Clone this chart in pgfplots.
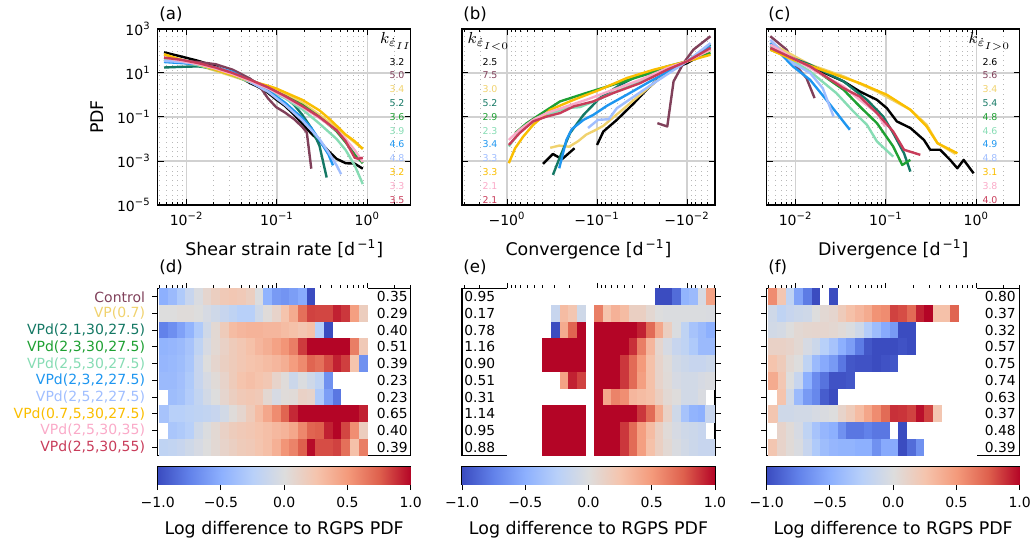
\documentclass[border=0pt]{standalone}
\usepackage{pgfplots}
\pgfplotsset{compat=1.18}
\usepackage{fontspec}
\setmainfont{DejaVu Sans}

\definecolor{cCtrl}{RGB}{128,64,90}
\definecolor{cVP}{RGB}{240,210,110}
\definecolor{cT}{RGB}{20,120,100}
\definecolor{cG}{RGB}{30,160,50}
\definecolor{cM}{RGB}{135,220,180}
\definecolor{cB}{RGB}{30,150,240}
\definecolor{cLB}{RGB}{160,190,255}
\definecolor{cGold}{RGB}{250,190,0}
\definecolor{cPk}{RGB}{250,170,200}
\definecolor{cCr}{RGB}{200,60,90}

\def\mxt{-2.301,-2.222,-2.155,-2.097,-2.046,-1.699,-1.523,-1.398,-1.301,-1.222,-1.155,-1.097,-1.046,-0.699,-0.523,-0.398,-0.301,-0.222,-0.155,-0.097,-0.046,0.301,0.477}
\newcommand{\tk}[1]{10\textsuperscript{#1}}
\newcommand{\kf}{\fontsize{4.7}{5.6}\selectfont}
% one heatmap cell: 0.0959 decade wide, one row high
\pgfdeclareplotmark{cell}{\pgfpathrectangle{\pgfpoint{-2.18pt}{-4.19pt}}{\pgfpoint{4.36pt}{8.38pt}}\pgfusepathqfillstroke}

\pgfplotsset{
  colormap={cwx}{rgb255(0cm)=(59,76,192) rgb255(1cm)=(98,130,234) rgb255(2cm)=(141,176,254) rgb255(3cm)=(184,208,249) rgb255(4cm)=(221,221,221) rgb255(5cm)=(245,196,173) rgb255(6cm)=(244,154,123) rgb255(7cm)=(222,96,77) rgb255(8cm)=(180,4,38) rgb255(9cm)=(255,255,255)},
  colormap={cw}{rgb255(0cm)=(59,76,192) rgb255(1cm)=(98,130,234) rgb255(2cm)=(141,176,254) rgb255(3cm)=(184,208,249) rgb255(4cm)=(221,221,221) rgb255(5cm)=(245,196,173) rgb255(6cm)=(244,154,123) rgb255(7cm)=(222,96,77) rgb255(8cm)=(180,4,38)},
  base/.style={scale only axis, width=126.5pt, anchor=north west,
    tick label style={font=\fontsize{7}{8}\selectfont},
    label style={font=\fontsize{8.7}{10}\selectfont},
    axis line style={line width=0.6pt},
    major tick length=3pt, minor tick length=1.7pt,
    every tick/.style={black, line width=0.5pt}},
  pdf/.style={base, height=88pt, xmin=-2.32, xmax=0.48, ymin=-5, ymax=3,
    xtick={-2,-1,0}, minor xtick=\mxt,
    xticklabels={\tk{−2},\tk{−1},\tk{0}},
    ytick={-5,-3,-1,1,3}, yticklabels={,,,,},
    xtick pos=both, ytick pos=both, xticklabel pos=lower, yticklabel pos=left,
    tick align=inside,
    xmajorgrids, ymajorgrids, xminorgrids,
    major grid style={black!18, line width=0.6pt},
    minor grid style={black!28, dotted, line width=0.4pt},
    every axis plot/.append style={line width=1.2pt, line join=round, mark=none}},
  hm/.style={base, height=83.5pt, xmin=-2.32, xmax=0.48, ymin=0.5, ymax=10.5, y dir=reverse,
    xtick={-2,-1,0}, minor xtick=\mxt, xticklabels={,,},
    xtick pos=upper, ytick={1,...,10}, tick align=outside,
    major tick length=2.8pt,
    colormap name=cwx, point meta min=-1, point meta max=1.25},
  cbar/.style={base, height=8.5pt, xmin=-1, xmax=1, ymin=0, ymax=1,
    ytick=\empty, xtick={-1,-0.5,0,0.5,1},
    xticklabels={−1.0,−0.5,0.0,0.5,1.0}, xtick pos=lower, tick align=outside,
    colormap name=cw, point meta min=-1, point meta max=1,
    xlabel={Log difference to RGPS PDF}},
  hmplot/.style={scatter, only marks, mark=cell, point meta=explicit,
    mark options={line width=0.12pt},
    scatter/use mapped color={draw=mapped color, fill=mapped color}},
}

\begin{document}
\begin{tikzpicture}
\useasboundingbox (0,0) rectangle (517.5pt,-270pt);

% ---------- (a) shear ----------
\begin{axis}[pdf, at={(78.85pt,-14.5pt)},
  yticklabels={\tk{−5},\tk{−3},\tk{−1},\tk{1},\tk{3}},
  ylabel={PDF}, xlabel={Shear strain rate [d\textsuperscript{\,−1}]}]
\addplot[black] coordinates {(-2.25,1.94) (-2.06,1.75) (-1.87,1.55) (-1.68,1.3) (-1.49,0.95) (-1.39,0.75) (-1.30,0.55) (-1.20,0.35) (-1.10,0.1) (-1.01,-0.2) (-0.91,-0.5) (-0.81,-0.9) (-0.72,-1.3) (-0.62,-1.75) (-0.53,-2.1) (-0.43,-2.55) (-0.34,-2.9) (-0.24,-3.1) (-0.14,-3.12) (-0.05,-3.35)};
\addplot[cCtrl] coordinates {(-2.25,1.55) (-2.06,1.55) (-1.87,1.5) (-1.68,1.4) (-1.49,1.15) (-1.30,0.75) (-1.20,0.45) (-1.10,-0.15) (-1.01,-0.55) (-0.91,-0.8) (-0.81,-1.1) (-0.72,-1.45) (-0.67,-1.7) (-0.62,-3.35)};
\addplot[cVP] coordinates {(-2.25,1.85) (-2.06,1.6) (-1.87,1.35) (-1.68,1.1) (-1.49,0.85) (-1.30,0.6) (-1.10,0.35) (-0.91,0.05) (-0.72,-0.35) (-0.53,-0.9) (-0.34,-1.5) (-0.14,-2.15) (-0.05,-2.45)};
\addplot[cT] coordinates {(-2.25,1.25) (-2.06,1.28) (-1.87,1.3) (-1.68,1.2) (-1.49,1.0) (-1.30,0.7) (-1.10,0.35) (-0.91,-0.1) (-0.81,-0.45) (-0.72,-0.9) (-0.62,-1.5) (-0.53,-2.3) (-0.45,-3.75)};
\addplot[cG] coordinates {(-2.25,1.6) (-2.06,1.5) (-1.87,1.35) (-1.68,1.15) (-1.49,0.9) (-1.30,0.6) (-1.10,0.3) (-0.91,-0.05) (-0.72,-0.45) (-0.53,-1.0) (-0.34,-1.65) (-0.24,-2.15) (-0.14,-2.7) (-0.05,-3.1)};
\addplot[cM] coordinates {(-2.25,1.6) (-2.06,1.5) (-1.87,1.35) (-1.68,1.15) (-1.49,0.9) (-1.30,0.6) (-1.10,0.25) (-0.91,-0.15) (-0.72,-0.65) (-0.53,-1.3) (-0.34,-2.0) (-0.24,-2.5) (-0.14,-3.2) (-0.05,-4.05)};
\addplot[cB] coordinates {(-2.25,1.5) (-2.06,1.45) (-1.87,1.4) (-1.68,1.25) (-1.49,1.05) (-1.30,0.65) (-1.10,0.2) (-0.91,-0.35) (-0.72,-1.05) (-0.62,-1.5) (-0.53,-2.05) (-0.43,-2.7) (-0.38,-3.2)};
\addplot[cLB] coordinates {(-2.25,1.55) (-2.06,1.5) (-1.87,1.4) (-1.68,1.25) (-1.49,1.0) (-1.30,0.6) (-1.10,0.15) (-0.91,-0.45) (-0.72,-1.15) (-0.53,-2.0) (-0.43,-2.6) (-0.34,-3.2) (-0.29,-3.6)};
\addplot[cGold] coordinates {(-2.25,1.85) (-2.06,1.6) (-1.87,1.4) (-1.68,1.15) (-1.49,0.9) (-1.30,0.65) (-1.10,0.42) (-1.01,0.3) (-0.91,0.12) (-0.72,-0.22) (-0.53,-0.7) (-0.43,-1.05) (-0.34,-1.4) (-0.24,-1.8) (-0.14,-2.1) (-0.05,-2.45)};
\addplot[cPk] coordinates {(-2.25,1.7) (-2.06,1.55) (-1.87,1.4) (-1.68,1.2) (-1.49,0.95) (-1.30,0.65) (-1.10,0.3) (-0.91,-0.1) (-0.72,-0.55) (-0.53,-1.05) (-0.34,-1.6) (-0.24,-2.0) (-0.14,-2.5) (-0.05,-3.05)};
\addplot[cCr] coordinates {(-2.25,1.7) (-2.06,1.6) (-1.87,1.45) (-1.68,1.25) (-1.49,1.0) (-1.30,0.7) (-1.10,0.35) (-0.91,-0.05) (-0.72,-0.5) (-0.53,-1.0) (-0.34,-1.6) (-0.24,-2.1) (-0.14,-2.85) (-0.10,-2.9) (-0.05,-2.85)};
\end{axis}

% ---------- (b) convergence (x = log10|div|, reversed) ----------
\begin{axis}[pdf, at={(231pt,-14.5pt)}, x dir=reverse, xmin=-2.31, xmax=0.5,
  xticklabels={−\tk{−2},−\tk{−1},−\tk{0}},
  xlabel={Convergence [d\textsuperscript{\,−1}]}]
\addplot[black] coordinates {(-0.40,-3.13) (-0.51,-2.68) (-0.61,-2.92) (-0.75,-2.42)};
\addplot[black] coordinates {(-1.0,-2.27) (-1.07,-1.66) (-1.22,-1.13) (-1.41,-0.37) (-1.55,0.24) (-1.67,0.69) (-1.85,1.2) (-2.0,1.45) (-2.15,1.8) (-2.26,2.06)};
\addplot[cCtrl] coordinates {(-1.67,-1.28) (-1.78,-1.43) (-1.85,0.62) (-1.96,1.45) (-2.07,2.06) (-2.26,2.67)};
\addplot[cVP] coordinates {(-0.48,-2.4) (-0.58,-2.3) (-0.69,-2.35) (-0.79,-2.1) (-0.88,-1.8) (-0.98,-1.6) (-1.07,-1.4) (-1.17,-1.05) (-1.26,-0.75) (-1.36,-0.4) (-1.46,-0.05) (-1.65,0.6) (-1.84,1.2) (-2.03,1.6) (-2.26,2.0)};
\addplot[cT] coordinates {(-0.51,-3.63) (-0.59,-2.8) (-0.70,-1.73) (-0.85,-0.9) (-1.03,-0.14) (-1.26,0.47) (-1.48,0.92) (-1.78,1.3) (-2.0,1.53) (-2.26,2.29)};
\addplot[cG] coordinates {(-0.09,-1.73) (-0.22,-1.28) (-0.36,-0.9) (-0.59,-0.29) (-0.88,0.09) (-1.18,0.47) (-1.48,0.85) (-1.78,1.22) (-2.0,1.53) (-2.26,1.91)};
\addplot[cM] coordinates {(-0.02,-2.34) (-0.14,-1.66) (-0.29,-1.2) (-0.44,-0.9) (-0.66,-0.6) (-0.81,-0.55) (-0.96,-0.3) (-1.18,0.1) (-1.48,0.6) (-1.78,1.2) (-2.0,1.53) (-2.26,2.2)};
\addplot[cB] coordinates {(-0.58,-3.33) (-0.66,-2.04) (-0.72,-1.55) (-0.85,-1.13) (-0.96,-0.9) (-1.11,-0.49) (-1.33,0.01) (-1.59,0.62) (-2.0,1.53) (-2.26,2.2)};
\addplot[cLB] coordinates {(-0.90,-1.5) (-1.01,-1.13) (-1.13,-1.1) (-1.22,-0.6) (-1.41,-0.07) (-1.63,0.54) (-2.0,1.53) (-2.26,2.36)};
\addplot[cGold] coordinates {(-0.02,-3.1) (-0.09,-2.42) (-0.18,-1.89) (-0.29,-1.36) (-0.48,-0.67) (-0.74,-0.22) (-1.03,0.24) (-1.33,0.77) (-1.63,1.15) (-2.0,1.53) (-2.26,1.83)};
\addplot[cPk] coordinates {(-0.02,-2.04) (-0.14,-1.58) (-0.29,-1.13) (-0.44,-0.82) (-0.66,-0.52) (-0.88,-0.22) (-1.18,0.24) (-1.48,0.69) (-1.78,1.22) (-2.0,1.53) (-2.26,2.06)};
\addplot[cCr] coordinates {(-0.02,-2.27) (-0.14,-1.73) (-0.29,-1.2) (-0.44,-0.98) (-0.59,-0.82) (-0.74,-0.52) (-0.96,-0.29) (-1.18,0.09) (-1.48,0.54) (-1.78,1.15) (-2.0,1.53) (-2.26,2.14)};
\end{axis}

% ---------- (c) divergence ----------
\begin{axis}[pdf, at={(383.35pt,-14.5pt)},
  xlabel={Divergence [d\textsuperscript{\,−1}]}]
\addplot[black] coordinates {(-2.28,2.21) (-1.84,1.3) (-1.47,0.62) (-1.29,0.16) (-1.10,-0.22) (-0.99,-0.6) (-0.88,-1.2) (-0.73,-1.5) (-0.58,-2.04) (-0.51,-2.49) (-0.40,-2.49) (-0.29,-2.95) (-0.21,-3.33) (-0.14,-2.95) (-0.03,-3.56)};
\addplot[cCtrl] coordinates {(-2.28,2.67) (-2.10,2.06) (-1.99,1.3) (-1.88,0.77) (-1.79,-0.14)};
\addplot[cVP] coordinates {(-2.28,2.36) (-1.84,1.38) (-1.47,0.85) (-1.10,0.16) (-0.73,-0.67) (-0.55,-1.35) (-0.43,-2.19) (-0.23,-2.68)};
\addplot[cT] coordinates {(-2.28,2.06) (-1.84,1.38) (-1.47,0.62) (-1.21,-0.22) (-1.03,-0.98) (-0.92,-1.73) (-0.80,-2.65) (-0.73,-3.48)};
\addplot[cG] coordinates {(-2.28,2.1) (-1.84,1.3) (-1.47,0.24) (-1.29,-0.52) (-1.10,-1.28) (-0.92,-2.34) (-0.82,-3.18) (-0.73,-2.95)};
\addplot[cM] coordinates {(-2.28,2.21) (-1.84,1.07) (-1.55,0.09) (-1.36,-0.75) (-1.21,-1.36) (-1.10,-2.11) (-0.92,-2.8)};
\addplot[cB] coordinates {(-2.28,2.36) (-2.03,1.3) (-1.84,0.69) (-1.66,-0.22) (-1.40,-1.58)};
\addplot[cLB] coordinates {(-2.28,2.51) (-2.03,1.45) (-1.84,1.0) (-1.70,0.31) (-1.58,-0.98)};
\addplot[cGold] coordinates {(-2.28,2.06) (-2.03,1.6) (-1.66,1.07) (-1.29,0.54) (-0.99,0.01) (-0.73,-0.67) (-0.55,-1.43) (-0.43,-2.19) (-0.21,-2.65)};
\addplot[cPk] coordinates {(-2.28,2.29) (-1.84,1.22) (-1.47,0.39) (-1.29,-0.22) (-1.10,-0.82) (-1.01,-1.43)};
\addplot[cCr] coordinates {(-2.28,2.14) (-1.84,1.3) (-1.47,0.31) (-1.29,-0.07) (-1.10,-0.82) (-0.92,-1.66) (-0.80,-2.49) (-0.62,-2.72)};
\end{axis}

% ---------- heatmaps: one row per model, 24 log bins from 0.005 to 1; 1.25 = empty bin ----------
\begin{axis}[hm, at={(78.85pt,-144.25pt)}, ytick pos=left,
  yticklabels={\textcolor{cCtrl}{Control},\textcolor{cVP}{VP(0.7)},{\textcolor{cT}{VPd(2,1,30,27.5)}},{\textcolor{cG}{VPd(2,3,30,27.5)}},{\textcolor{cM}{VPd(2,5,30,27.5)}},{\textcolor{cB}{VPd(2,3,2,27.5)}},{\textcolor{cLB}{VPd(2,5,2,27.5)}},{\textcolor{cGold}{VPd(0.7,5,30,27.5)}},{\textcolor{cPk}{VPd(2,5,30,35)}},{\textcolor{cCr}{VPd(2,5,30,55)}}}]
\addplot[hmplot] table[row sep=\\, x expr={-2.253+0.0959*mod(\coordindex,24)}, y expr={floor(\coordindex/24)+1}, meta=v] {
v\\
-0.5\\ -0.42\\ -0.3\\ -0.15\\ -0.03\\ 0.08\\ 0.15\\ 0.2\\ 0.22\\ 0.2\\ 0.15\\ -0.02\\ -0.48\\ -0.62\\ -0.65\\ -0.6\\ -0.53\\ -1\\ 1.25\\ 1.25\\ 1.25\\ 1.25\\ 1.25\\ 1.25\\
0\\ 0\\ 0.02\\ 0.02\\ 0\\ -0.05\\ -0.1\\ -0.15\\ -0.2\\ -0.25\\ -0.25\\ -0.1\\ 0.02\\ 0.1\\ 0.25\\ 0.4\\ 0.68\\ 0.83\\ 0.82\\ 0.82\\ 0.92\\ 0.86\\ 0.47\\ 0.16\\
-0.75\\ -0.68\\ -0.58\\ -0.47\\ -0.3\\ -0.1\\ 0.05\\ 0.18\\ 0.3\\ 0.33\\ 0.35\\ 0.35\\ 0.33\\ 0.33\\ 0.3\\ 0.27\\ 0.23\\ 0.27\\ -0.25\\ -1\\ 1.25\\ 1.25\\ 1.25\\ 1.25\\
-0.47\\ -0.45\\ -0.42\\ -0.35\\ -0.2\\ -0.05\\ 0.05\\ 0.12\\ 0.18\\ 0.22\\ 0.27\\ 0.33\\ 0.38\\ 0.45\\ 0.52\\ 0.62\\ 0.85\\ 1\\ 1\\ 1\\ 1\\ 1\\ 0.62\\ 0.2\\
-0.45\\ -0.43\\ -0.4\\ -0.33\\ -0.15\\ 0\\ 0.08\\ 0.14\\ 0.18\\ 0.22\\ 0.25\\ 0.27\\ 0.3\\ 0.33\\ 0.38\\ 0.48\\ 0.57\\ 0.73\\ 0.68\\ 0.8\\ 0.92\\ 0.84\\ 0.25\\ -0.67\\
-0.45\\ -0.42\\ -0.38\\ -0.3\\ -0.15\\ -0.05\\ 0.03\\ 0.1\\ 0.18\\ 0.25\\ 0.28\\ 0.25\\ 0.22\\ 0.1\\ 0.02\\ -0.12\\ -0.02\\ -0.1\\ -0.2\\ -0.67\\ 1.25\\ 1.25\\ 1.25\\ 1.25\\
-0.42\\ -0.4\\ -0.37\\ -0.28\\ -0.18\\ -0.08\\ 0\\ 0.08\\ 0.15\\ 0.2\\ 0.22\\ 0.2\\ 0.06\\ -0.05\\ 0.02\\ 0.03\\ 0.12\\ 0.1\\ -0.3\\ -0.6\\ -0.8\\ 1.25\\ 1.25\\ 1.25\\
-0.2\\ -0.25\\ -0.25\\ -0.22\\ -0.2\\ -0.18\\ -0.15\\ -0.08\\ 0.02\\ 0.08\\ 0.18\\ 0.3\\ 0.42\\ 0.56\\ 0.73\\ 0.9\\ 1\\ 1\\ 1\\ 1\\ 1\\ 1\\ 1\\ 0.92\\
-0.35\\ -0.33\\ -0.3\\ -0.25\\ -0.1\\ -0.02\\ 0.05\\ 0.12\\ 0.17\\ 0.2\\ 0.22\\ 0.25\\ 0.28\\ 0.32\\ 0.35\\ 0.42\\ 0.58\\ 0.73\\ 0.75\\ 0.92\\ 1\\ 0.82\\ 0.55\\ 0.16\\
-0.2\\ -0.18\\ -0.15\\ -0.1\\ -0.05\\ 0\\ 0.05\\ 0.1\\ 0.14\\ 0.18\\ 0.2\\ 0.24\\ 0.28\\ 0.37\\ 0.52\\ 0.6\\ 0.75\\ 0.98\\ 0.8\\ 0.8\\ 0.83\\ 0.68\\ 0.27\\ 0.62\\
};
\end{axis}

\begin{axis}[hm, at={(231pt,-144.25pt)}, x dir=reverse, xmin=-2.31, xmax=0.5,
  ytick pos=right, yticklabels={,,,,,,,,,}]
\addplot[hmplot] table[row sep=\\, x expr={-2.253+0.0959*mod(\coordindex,24)}, y expr={floor(\coordindex/24)+1}, meta=v] {
v\\
0.45\\ -0.05\\ -0.42\\ -0.47\\ -0.85\\ -1\\ -1\\ 1.25\\ 1.25\\ 1.25\\ 1.25\\ 1.25\\ 1.25\\ 1.25\\ 1.25\\ 1.25\\ 1.25\\ 1.25\\ 1.25\\ 1.25\\ 1.25\\ 1.25\\ 1.25\\ 1.25\\
-0.03\\ -0.02\\ -0.02\\ -0.02\\ -0.02\\ -0.02\\ 0\\ 0.06\\ 0.14\\ 0.14\\ 0.3\\ 0.36\\ 0.25\\ 0.62\\ 1.25\\ -0.1\\ 0.23\\ 0.3\\ -0.15\\ 1.25\\ 1.25\\ 1.25\\ 1.25\\ 1.25\\
-0.5\\ -0.42\\ -0.35\\ -0.2\\ -0.02\\ 0.15\\ 0.42\\ 0.7\\ 0.92\\ 1\\ 1\\ 1\\ 1\\ 1\\ 1.25\\ 1\\ 0.73\\ 0.4\\ -1\\ 1.25\\ 1.25\\ 1.25\\ 1.25\\ 1.25\\
-0.42\\ -0.42\\ -0.3\\ -0.2\\ -0.15\\ -0.05\\ 0.08\\ 0.33\\ 0.62\\ 0.88\\ 1\\ 1\\ 1\\ 1\\ 1.25\\ 1\\ 1\\ 1\\ 1\\ 1\\ 1.25\\ 1.25\\ 1.25\\ 1.25\\
-0.12\\ -0.15\\ -0.15\\ -0.12\\ -0.08\\ 0.02\\ 0.1\\ 0.27\\ 0.5\\ 0.7\\ 0.86\\ 1\\ 1\\ 1\\ 1.25\\ 1\\ 1\\ 1\\ 1\\ 1\\ 1.25\\ 1.25\\ 1.25\\ 1.25\\
-0.05\\ -0.05\\ -0.08\\ -0.08\\ -0.05\\ 0.03\\ 0.1\\ 0.27\\ 0.47\\ 0.7\\ 0.86\\ 1\\ 1\\ 1\\ 1.25\\ 0.83\\ 0.92\\ 0.45\\ 1.25\\ 1.25\\ 1.25\\ 1.25\\ 1.25\\ 1.25\\
-0.03\\ -0.03\\ -0.08\\ -0.08\\ 0.01\\ 0.05\\ 0.15\\ 0.27\\ 0.3\\ 0.33\\ 0.55\\ 0.6\\ 0.42\\ 1\\ 1.25\\ 1.25\\ 1.25\\ 1.25\\ 1.25\\ 1.25\\ 1.25\\ 1.25\\ 1.25\\ 1.25\\
-0.6\\ -0.5\\ -0.47\\ -0.35\\ -0.1\\ 0.12\\ 0.4\\ 0.7\\ 0.86\\ 1\\ 1\\ 1\\ 1\\ 1\\ 1.25\\ 1\\ 1\\ 1\\ 1\\ 1\\ 1.25\\ 1.25\\ 1.25\\ 1.25\\
-0.15\\ -0.15\\ -0.12\\ -0.1\\ -0.05\\ 0.03\\ 0.14\\ 0.3\\ 0.47\\ 0.7\\ 0.86\\ 1\\ 1\\ 1\\ 1.25\\ 1\\ 1\\ 1\\ 1\\ 1\\ 1.25\\ 1.25\\ 1.25\\ 1.25\\
-0.15\\ -0.15\\ -0.12\\ -0.08\\ -0.03\\ 0.05\\ 0.14\\ 0.27\\ 0.47\\ 0.7\\ 0.86\\ 1\\ 1\\ 1\\ 1.25\\ 1\\ 1\\ 1\\ 1\\ 1\\ 1.25\\ 1.25\\ 1.25\\ 1.25\\
};
\end{axis}

\begin{axis}[hm, at={(383.35pt,-144.25pt)}, ytick pos=left, yticklabels={,,,,,,,,,}]
\addplot[hmplot] table[row sep=\\, x expr={-2.253+0.0959*mod(\coordindex,24)}, y expr={floor(\coordindex/24)+1}, meta=v] {
v\\
0.56\\ 0.23\\ -0.2\\ -0.57\\ -0.78\\ -1\\ 1.25\\ -1\\ 1.25\\ 1.25\\ 1.25\\ 1.25\\ 1.25\\ 1.25\\ 1.25\\ 1.25\\ 1.25\\ 1.25\\ 1.25\\ 1.25\\ 1.25\\ 1.25\\ 1.25\\ 1.25\\
-0.1\\ -0.2\\ -0.15\\ -0.12\\ -0.1\\ 0\\ 0.05\\ 0.08\\ 0.18\\ 0.27\\ 0.33\\ 0.4\\ 0.53\\ 0.56\\ 0.83\\ 0.8\\ 0.7\\ 0.92\\ 1\\ 0.27\\ 0.27\\ 0.73\\ 1.25\\ 1.25\\
-0.08\\ -0.06\\ 0\\ 0.05\\ 0.07\\ 0.08\\ 0.08\\ 0.06\\ 0.03\\ -0.02\\ -0.1\\ -0.27\\ -0.4\\ -0.53\\ -0.62\\ -1\\ -1\\ 1.25\\ 1.25\\ 1.25\\ 1.25\\ 1.25\\ 1.25\\ 1.25\\
0.12\\ 0.12\\ 0.1\\ 0.05\\ -0.05\\ -0.12\\ -0.25\\ -0.35\\ -0.5\\ -0.6\\ -0.78\\ -0.95\\ -1\\ -1\\ -1\\ -0.97\\ -1\\ 1.25\\ 1.25\\ 1.25\\ 1.25\\ 1.25\\ 1.25\\ 1.25\\
0.25\\ 0.18\\ 0.05\\ 0\\ -0.2\\ -0.42\\ -0.53\\ -0.62\\ -0.8\\ -0.95\\ -0.97\\ -0.97\\ -1\\ -0.97\\ -0.95\\ 1.25\\ 1.25\\ 1.25\\ 1.25\\ 1.25\\ 1.25\\ 1.25\\ 1.25\\ 1.25\\
0.3\\ 0.22\\ 0\\ -0.15\\ -0.5\\ -0.7\\ -0.82\\ -0.97\\ -0.97\\ -0.95\\ 1.25\\ 1.25\\ 1.25\\ 1.25\\ 1.25\\ 1.25\\ 1.25\\ 1.25\\ 1.25\\ 1.25\\ 1.25\\ 1.25\\ 1.25\\ 1.25\\
0.4\\ 0.25\\ -0.08\\ -0.42\\ -0.62\\ -0.72\\ -0.92\\ -1\\ 1.25\\ 1.25\\ 1.25\\ 1.25\\ 1.25\\ 1.25\\ 1.25\\ 1.25\\ 1.25\\ 1.25\\ 1.25\\ 1.25\\ 1.25\\ 1.25\\ 1.25\\ 1.25\\
-0.1\\ -0.1\\ -0.1\\ -0.08\\ -0.08\\ -0.05\\ -0.03\\ 0\\ 0.1\\ 0.18\\ 0.3\\ 0.43\\ 0.56\\ 0.7\\ 0.88\\ 0.87\\ 0.83\\ 0.97\\ 0.83\\ 0.23\\ 1.25\\ 1.25\\ 1.25\\ 1.25\\
0.23\\ 0.1\\ 0.03\\ -0.05\\ -0.2\\ -0.35\\ -0.45\\ -0.5\\ -0.67\\ -0.8\\ -0.8\\ -0.75\\ -0.8\\ -0.8\\ 1.25\\ -1\\ 1.25\\ 1.25\\ 1.25\\ 1.25\\ 1.25\\ 1.25\\ 1.25\\ 1.25\\
0.23\\ 0.1\\ 0.03\\ -0.03\\ -0.15\\ -0.3\\ -0.4\\ -0.45\\ -0.47\\ -0.47\\ -0.5\\ -0.5\\ -0.67\\ -0.53\\ -0.53\\ -1\\ -0.85\\ -0.67\\ 1.25\\ 1.25\\ 1.25\\ 1.25\\ 1.25\\ 1.25\\
};
\end{axis}

% ---------- colorbars ----------
\begin{axis}[cbar, at={(78.85pt,-233.5pt)}]
\addplot[patch, patch type=rectangle, shader=interp, point meta=x] coordinates {(-1,0) (1,0) (1,1) (-1,1)};
\end{axis}
\begin{axis}[cbar, at={(231pt,-233.5pt)}]
\addplot[patch, patch type=rectangle, shader=interp, point meta=x] coordinates {(-1,0) (1,0) (1,1) (-1,1)};
\end{axis}
\begin{axis}[cbar, at={(383.35pt,-233.5pt)}]
\addplot[patch, patch type=rectangle, shader=interp, point meta=x] coordinates {(-1,0) (1,0) (1,1) (-1,1)};
\end{axis}

% ---------- panel letters ----------
\begin{scope}[every node/.style={font=\fontsize{8.3}{10}\selectfont, anchor=base west, inner sep=0}]
\node at (79.5pt,-10pt) {(a)};
\node at (231.5pt,-10pt) {(b)};
\node at (384pt,-10pt) {(c)};
\node at (79.5pt,-136pt) {(d)};
\node at (231.5pt,-136pt) {(e)};
\node at (384pt,-136pt) {(f)};
\end{scope}

% ---------- exponents k ----------
\node[font=\fontsize{8.5}{9}\selectfont, inner sep=0, anchor=base] at (198pt,-22pt) {$k_{\dot{\varepsilon}_{II}}$};
\node[font=\fontsize{8.5}{9}\selectfont, inner sep=0, anchor=base] at (244.5pt,-22pt) {$k_{\dot{\varepsilon}_{I<0}}$};
\node[font=\fontsize{8.5}{9}\selectfont, inner sep=0, anchor=base] at (495pt,-22pt) {$k_{\dot{\varepsilon}_{I>0}}$};
\foreach \v/\c [count=\n from 0] in {3.2/black,5.0/cCtrl,3.4/cVP,5.2/cT,3.6/cG,3.9/cM,4.6/cB,4.8/cLB,3.2/cGold,3.3/cPk,3.5/cCr}
  \node[text=\c, font=\kf, inner sep=0] at (198.5pt,{-30.8pt-6.9pt*\n}) {\v};
\foreach \v/\c [count=\n from 0] in {2.5/black,7.5/cCtrl,3.0/cVP,5.2/cT,2.9/cG,2.3/cM,3.4/cB,3.3/cLB,3.3/cGold,2.1/cPk,2.1/cCr}
  \node[text=\c, font=\kf, inner sep=0] at (245pt,{-30.8pt-6.9pt*\n}) {\v};
\foreach \v/\c [count=\n from 0] in {2.6/black,5.6/cCtrl,3.4/cVP,5.4/cT,4.8/cG,4.6/cM,4.9/cB,4.8/cLB,3.1/cGold,3.8/cPk,4.0/cCr}
  \node[text=\c, font=\kf, inner sep=0] at (495pt,{-30.8pt-6.9pt*\n}) {\v};

% ---------- mean absolute log differences ----------
\foreach \v [count=\n from 0] in {0.35,0.29,0.40,0.51,0.39,0.23,0.23,0.65,0.40,0.39}
  \node[font=\fontsize{6.9}{8}\selectfont, anchor=east, inner sep=0] at (204pt,{-148.4pt-8.35pt*\n}) {\v};
\foreach \v [count=\n from 0] in {0.95,0.17,0.78,1.16,0.90,0.51,0.31,1.14,0.95,0.88}
  \node[font=\fontsize{6.9}{8}\selectfont, anchor=west, inner sep=0] at (232pt,{-148.4pt-8.35pt*\n}) {\v};
\foreach \v [count=\n from 0] in {0.80,0.37,0.32,0.57,0.75,0.74,0.63,0.37,0.48,0.39}
  \node[font=\fontsize{6.9}{8}\selectfont, anchor=east, inner sep=0] at (508pt,{-148.4pt-8.35pt*\n}) {\v};
\end{tikzpicture}
\end{document}
